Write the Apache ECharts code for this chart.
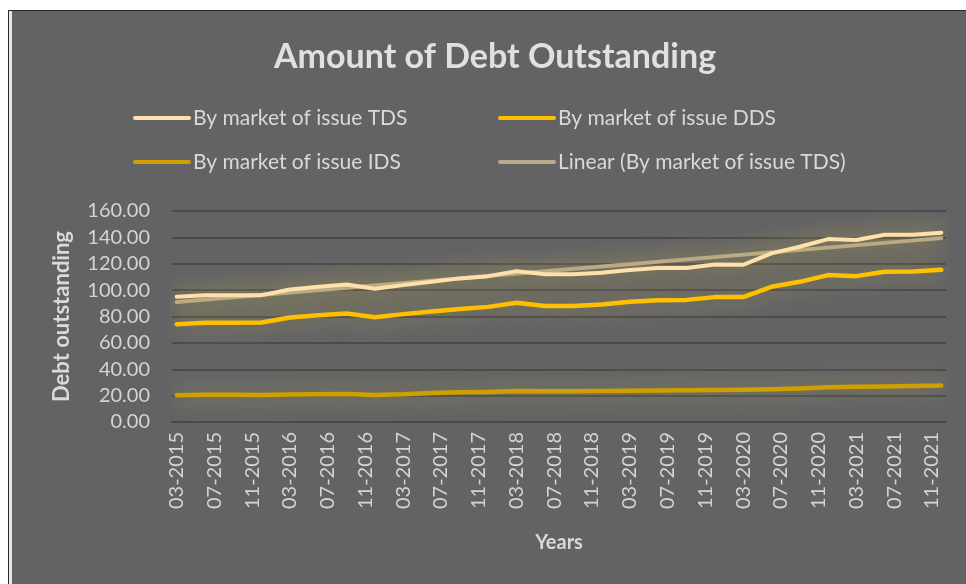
<!DOCTYPE html>
<html>
<head>
<meta charset="utf-8">
<script src="https://cdn.jsdelivr.net/npm/echarts@6/dist/echarts.min.js"></script>
<style>
html,body{margin:0;padding:0;background:#fff;}
#chart{position:absolute;left:0;top:0;width:966px;height:584px;}
</style>
</head>
<body>
<div id="chart"></div>
<script>
// Quarterly observation dates (MM-YYYY)
const quarters = ["03-2015","06-2015","09-2015","12-2015","03-2016","06-2016","09-2016","12-2016",
  "03-2017","06-2017","09-2017","12-2017","03-2018","06-2018","09-2018","12-2018",
  "03-2019","06-2019","09-2019","12-2019","03-2020","06-2020","09-2020","12-2020",
  "03-2021","06-2021","09-2021","12-2021"];
const tds = [95.0,96.2,96.2,96.2,100.5,102.5,104.3,101.0,103.8,106.3,108.9,110.6,114.4,112.1,
  112.1,113.1,115.2,116.7,116.7,119.5,119.2,127.9,132.9,138.7,138.0,142.0,142.0,143.5];
const dds = [74.2,75.2,75.2,75.5,79.3,81.0,82.3,79.5,81.8,83.8,85.6,87.3,90.4,87.9,
  87.9,89.1,91.1,92.4,92.6,94.7,94.7,102.5,106.3,111.4,110.6,113.9,114.2,115.4];
const ids = [20.3,20.6,20.6,20.4,20.8,21.0,21.2,20.5,21.0,22.0,22.5,22.8,23.5,23.3,
  23.4,23.6,23.7,23.9,24.1,24.3,24.5,24.8,25.4,26.3,26.8,27.0,27.3,27.6];
const seriesNames = ["By market of issue TDS","By market of issue DDS","By market of issue IDS","Linear (By market of issue TDS)"];
const yTicks = {min:0, max:160, interval:20};

// Monthly date axis (Excel date axis, base unit = month)
function monthIndex(s){const [m,y]=s.split("-").map(Number);return y*12+(m-1);}
const m0 = monthIndex(quarters[0]), m1 = monthIndex(quarters[quarters.length-1]);
const months = [];
for(let k=m0;k<=m1;k++){const y=Math.floor(k/12),m=k%12+1;months.push((m<10?"0":"")+m+"-"+y);}
function toMonthly(vals){
  const arr = months.map(()=>null);
  quarters.forEach((q,i)=>{arr[monthIndex(q)-m0]=vals[i];});
  return arr;
}
// Linear trendline (least squares on TDS vs date)
const xs = quarters.map(q=>monthIndex(q)-m0);
const n = xs.length;
const mx = xs.reduce((a,b)=>a+b,0)/n, my = tds.reduce((a,b)=>a+b,0)/n;
let sxy=0,sxx=0; xs.forEach((x,i)=>{sxy+=(x-mx)*(tds[i]-my);sxx+=(x-mx)*(x-mx);});
const slope=sxy/sxx, icpt=my-slope*mx;
const trend = months.map((_,k)=> (k===0||k===months.length-1)? icpt+slope*k : null);

const font = "Lato, 'Open Sans', sans-serif";
const glow = 'rgba(225,205,80,0.6)';
function lineSeries(name,data,color,width,z){
  return {name, type:'line', data, connectNulls:true, showSymbol:false, symbol:'none', z,
    lineStyle:{color, width, cap:'round', join:'round', shadowColor:glow, shadowBlur:24},
    itemStyle:{color}, emphasis:{disabled:true}};
}
const legendItems = [
  {name:seriesNames[0], color:'#ffe0a8', x:135, y:118},
  {name:seriesNames[1], color:'#ffc000', x:500, y:118},
  {name:seriesNames[2], color:'#cf9f00', x:135, y:162},
  {name:seriesNames[3], color:'#b8a98a', x:500, y:162}
];
const graphics = [
  {type:'rect', shape:{x:0,y:0,width:966,height:10}, style:{fill:'#ffffff'}, z:-10},
  {type:'rect', shape:{x:0,y:0,width:8,height:584}, style:{fill:'#ffffff'}, z:-10},
  {type:'rect', shape:{x:9,y:11,width:3,height:573}, style:{fill:'#e6e6e6'}, z:-10},
  {type:'line', shape:{x1:8,y1:10.5,x2:966,y2:10.5}, style:{stroke:'#2a2a2a',lineWidth:1}, z:-9},
  {type:'line', shape:{x1:8.5,y1:10,x2:8.5,y2:584}, style:{stroke:'#2a2a2a',lineWidth:1}, z:-9}
];
legendItems.forEach(it=>{
  graphics.push({type:'line', shape:{x1:it.x,y1:it.y,x2:it.x+54,y2:it.y}, style:{stroke:it.color,lineWidth:4,lineCap:'round'}});
  graphics.push({type:'text', x:it.x+58, y:it.y, style:{text:it.name, fill:'#d9d9d9', font:'21px '+font, verticalAlign:'middle'}});
});

const chart = echarts.init(document.getElementById('chart'));
chart.setOption({
  backgroundColor:'#636365',
  animation:false,
  graphic:graphics,
  title:{text:'Amount of Debt Outstanding', left:269, top:35,
    textStyle:{color:'#e0e0e0', fontSize:34, fontWeight:'bold', fontFamily:font}},
  legend:{show:false},
  grid:{left:172, right:20, top:211, bottom:162, containLabel:false},
  xAxis:{type:'category', data:months, boundaryGap:true,
    name:'Years', nameLocation:'middle', nameGap:111,
    nameTextStyle:{color:'#d9d9d9', fontSize:20, fontWeight:'bold', fontFamily:font},
    axisLine:{show:true, lineStyle:{color:'#4a4a4c', width:2}},
    axisTick:{show:false},
    axisLabel:{interval:3, rotate:90, color:'#d4d4d4', fontSize:20, fontFamily:font, margin:10},
    splitLine:{show:false}},
  yAxis:{type:'value', min:yTicks.min, max:yTicks.max, interval:yTicks.interval,
    name:'Debt outstanding', nameLocation:'middle', nameGap:99, nameRotate:90,
    nameTextStyle:{color:'#d9d9d9', fontSize:22, fontWeight:'bold', fontFamily:font},
    axisLine:{show:false}, axisTick:{show:false},
    axisLabel:{color:'#d4d4d4', fontSize:20, fontFamily:font, margin:22, formatter:v=>v.toFixed(2)},
    splitLine:{lineStyle:{color:'#4a4a4c', width:2}}},
  series:[
    lineSeries(seriesNames[3], trend, '#b8a98a', 4, 3),
    lineSeries(seriesNames[0], toMonthly(tds), '#ffe0a8', 4, 5),
    lineSeries(seriesNames[1], toMonthly(dds), '#ffc000', 4.5, 4),
    lineSeries(seriesNames[2], toMonthly(ids), '#cf9f00', 4.5, 4)
  ]
});
</script>
</body>
</html>
